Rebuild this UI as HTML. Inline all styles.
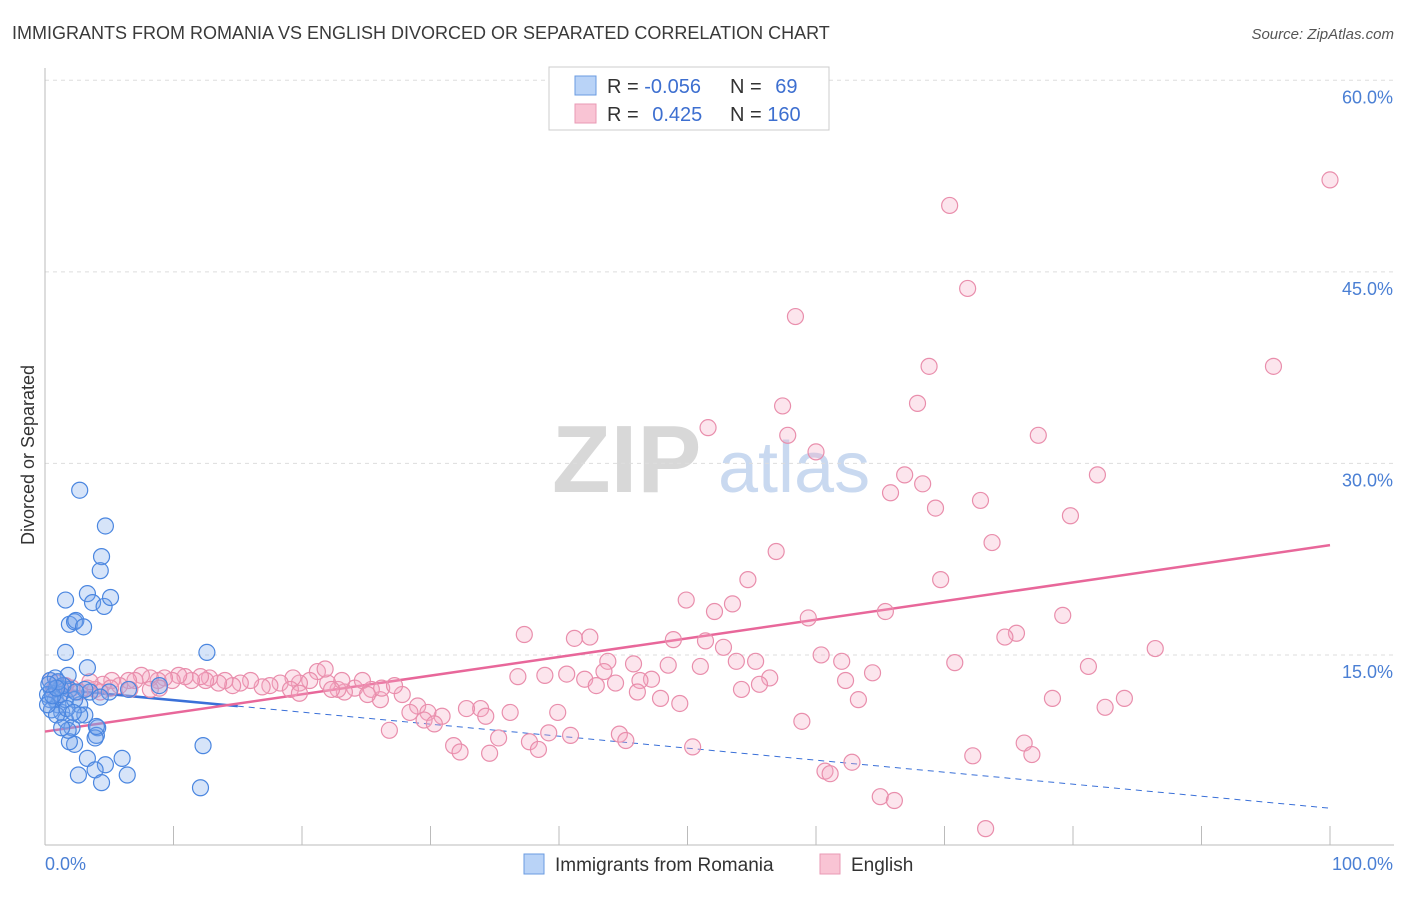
<!DOCTYPE html>
<html><head><meta charset="utf-8"><style>
body{margin:0;background:#fff;font-family:"Liberation Sans",sans-serif;}
svg text{font-family:"Liberation Sans",sans-serif;}
</style></head><body>
<svg id="chart" width="1406" height="892" xmlns="http://www.w3.org/2000/svg">
<text x="12" y="39" font-size="18" fill="#3a3a3a">IMMIGRANTS FROM ROMANIA VS ENGLISH DIVORCED OR SEPARATED CORRELATION CHART</text>
<text x="1394" y="39" font-size="15" fill="#555" text-anchor="end" font-style="italic">Source: ZipAtlas.com</text>
<text x="552" y="492" font-size="96" fill="#d8d8d8" font-family="Liberation Serif" font-weight="bold">ZIP</text>
<text x="718" y="492" font-size="72" fill="#c9d9f0">atlas</text>
<text transform="translate(34,455) rotate(-90)" font-size="18" fill="#333" text-anchor="middle">Divorced or Separated</text>
<g id="grid"></g><g id="axes"></g><g id="trends"></g><g id="pts"></g>
<g>
<rect x="549" y="67" width="280" height="63" fill="#fff" stroke="#ccc"/>
<rect x="575" y="76" width="21" height="19" fill="#b9d3f7" stroke="#6a9be0"/>
<rect x="575" y="104" width="21" height="19" fill="#f9c4d4" stroke="#e99ab4"/>
<text x="607" y="93" font-size="20" fill="#333">R = <tspan fill="#3d6fd0">-0.056</tspan></text>
<text x="730" y="93" font-size="20" fill="#333">N = <tspan fill="#3d6fd0" dx="8">69</tspan></text>
<text x="607" y="121" font-size="20" fill="#333">R = <tspan fill="#3d6fd0" dx="8">0.425</tspan></text>
<text x="730" y="121" font-size="20" fill="#333">N = <tspan fill="#3d6fd0">160</tspan></text>
</g>
<g>
<rect x="524" y="854" width="20" height="20" fill="#b9d3f7" stroke="#6a9be0"/>
<text x="555" y="871" font-size="19" fill="#333">Immigrants from Romania</text>
<rect x="820" y="854" width="20" height="20" fill="#f9c4d4" stroke="#e99ab4"/>
<text x="851" y="871" font-size="19" fill="#333">English</text>
</g>
</svg>
<script>
const xTicks=[0,10,20,30,40,50,60,70,80,90,100];
const yTicks=[15,30,45,60];
const yTickLabels=["15.0%","30.0%","45.0%","60.0%"];
const blueX=[0.4,0.5,0.8,0.2,1.2,1.0,1.3,1.6,1.9,1.8,0.8,1.2,1.6,2.1,2.3,2.6,2.7,4.7,4.4,4.3,3.3,3.7,4.6,5.1,1.6,1.9,2.3,2.4,3.0,1.6,3.3,3.5,2.7,3.1,4.1,4.0,3.9,1.9,1.8,3.3,6.0,4.7,3.9,6.4,4.4,12.1,12.3,12.6,5.0,6.5,8.9,0.4,0.5,0.9,1.4,0.2,0.6,1.0,2.3,2.7,4.0,3.1,1.3,2.4,1.7,2.2,0.9,0.3,4.3];
const blueY=[13.0,12.3,11.5,11.9,12.4,11.1,10.5,11.5,12.3,13.4,13.2,11.9,9.9,9.3,8.0,5.6,27.9,25.1,22.7,21.6,19.8,19.1,18.8,19.5,19.3,17.4,17.6,17.7,17.2,15.2,14.0,12.1,11.1,10.3,9.3,8.7,8.5,8.2,9.1,6.9,6.9,6.4,6.0,5.6,5.0,4.6,7.9,15.2,12.1,12.3,12.6,11.5,10.7,10.3,12.6,11.1,11.8,12.9,11.5,10.3,9.4,12.3,9.3,12.1,10.8,10.5,12.4,12.7,11.7];
const pinkX=[100,70.4,71.8,58.4,68.8,95.6,67.9,57.4,51.6,57.8,77.3,60.0,66.9,65.8,68.3,81.9,72.8,69.3,79.8,73.7,56.9,54.7,69.7,49.9,53.5,52.1,59.4,65.4,79.2,37.3,41.2,42.4,48.9,51.4,75.6,74.7,52.8,43.8,55.3,53.8,60.4,62.0,70.8,86.4,81.2,45.8,48.5,36.8,38.9,40.6,43.5,42.0,47.2,46.3,42.9,44.4,51.0,56.4,55.6,54.2,64.4,62.3,46.1,47.9,49.4,78.4,84.0,82.5,63.3,58.9,39.9,36.2,33.9,32.8,34.3,30.9,29.0,28.4,29.8,29.5,30.3,26.8,31.8,32.3,34.6,35.3,37.7,38.4,39.2,40.9,44.7,45.2,50.4,60.7,61.1,62.8,65.0,66.1,72.2,76.2,76.8,73.2,27.8,26.1,25.4,24.1,23.3,22.8,22.0,21.2,21.8,20.6,19.8,19.3,18.3,17.5,16.9,16.0,15.2,14.6,14.0,13.5,12.8,12.5,12.1,11.4,10.9,10.4,9.9,9.3,8.8,8.2,7.5,7.0,6.5,5.8,5.2,4.5,3.9,3.3,2.7,2.1,1.5,0.9,0.4,0.7,1.2,1.6,19.1,19.8,24.7,23.1,22.3,25.1,26.2,27.2,8.2,6.6,5.1,3.5,4.3,8.9];
const pinkY=[52.2,50.2,43.7,41.5,37.6,37.6,34.7,34.5,32.8,32.2,32.2,30.9,29.1,27.7,28.4,29.1,27.1,26.5,25.9,23.8,23.1,20.9,20.9,19.3,19.0,18.4,17.9,18.4,18.1,16.6,16.3,16.4,16.2,16.1,16.7,16.4,15.6,14.5,14.5,14.5,15.0,14.5,14.4,15.5,14.1,14.3,14.2,13.3,13.4,13.5,13.7,13.1,13.1,13.0,12.6,12.8,14.1,13.2,12.7,12.3,13.6,13.0,12.1,11.6,11.2,11.6,11.6,10.9,11.5,9.8,10.5,10.5,10.8,10.8,10.2,10.2,11.0,10.5,10.5,9.9,9.6,9.1,7.9,7.4,7.3,8.5,8.2,7.6,8.9,8.7,8.8,8.3,7.8,5.9,5.7,6.6,3.9,3.6,7.1,8.1,7.2,1.4,11.9,11.5,12.3,12.4,12.1,12.3,12.8,13.7,13.9,13.0,12.8,13.2,12.8,12.6,12.5,13.0,12.8,12.6,13.0,12.8,13.2,13.0,13.3,13.0,13.3,13.4,13.0,13.2,13.0,13.2,13.4,13.0,13.0,12.6,13.0,12.7,12.3,12.4,12.1,12.4,12.6,12.8,13.0,12.3,11.9,12.6,12.3,12.0,13.0,13.0,12.3,11.9,12.4,12.6,12.3,12.3,12.4,12.9,12.1,12.4];
const blueTrend=[12.4,3.0];
const blueSolidEnd=15;
const pinkTrend=[9.0,23.6];
const NS="http://www.w3.org/2000/svg";
const X=v=>45+v*12.85, Y=v=>846.5-v*12.77;
function mk(tag,attrs,parent){const e=document.createElementNS(NS,tag);for(const k in attrs)e.setAttribute(k,attrs[k]);parent.appendChild(e);return e;}
const grid=document.getElementById('grid'),axes=document.getElementById('axes'),tr=document.getElementById('trends'),pts=document.getElementById('pts');
yTicks.forEach((t,i)=>{
 const l=mk('line',{x1:45,x2:1394,y1:Y(t),y2:Y(t),stroke:'#ddd','stroke-dasharray':'4,4'},grid);
 
 
 const tx=mk('text',{x:1393,y:Y(t)+23,'font-size':18,fill:'#4a7fd4','text-anchor':'end'},grid);
 tx.textContent=yTickLabels[i];
 
 
});
const ax=mk('line',{x1:45,x2:1394,y1:845,y2:845,stroke:'#bbb'},axes);


const ay=mk('line',{x1:45,x2:45,y1:68,y2:845,stroke:'#bbb'},axes);


xTicks.forEach(t=>{const l=mk('line',{x1:X(t),x2:X(t),y1:826,y2:845,stroke:'#bbb'},axes);
 
 });
const x0=mk('text',{x:45,y:870,'font-size':18,fill:'#4a7fd4'},axes);x0.textContent='0.0%';


const x1=mk('text',{x:1393,y:870,'font-size':18,fill:'#4a7fd4','text-anchor':'end'},axes);x1.textContent='100.0%';


function drawPts(xs,ys,fill,stroke,name){xs.forEach((v,i)=>{const c=mk('circle',{cx:X(v),cy:Y(ys[i]),r:8,fill:fill,stroke:stroke,'stroke-width':1.2},pts);
 
 });}
drawPts(pinkX,pinkY,'rgba(246,170,195,0.3)','#e98eac','english-point');
drawPts(blueX,blueY,'rgba(120,165,235,0.3)','#4a86e0','romania-point');
const bY=x=>blueTrend[0]+(blueTrend[1]-blueTrend[0])*x/100;
const b1=mk('line',{x1:X(0),y1:Y(bY(0)),x2:X(blueSolidEnd),y2:Y(bY(blueSolidEnd)),stroke:'#3a70d8','stroke-width':2.5},tr);


const b2=mk('line',{x1:X(blueSolidEnd),y1:Y(bY(blueSolidEnd)),x2:X(100),y2:Y(bY(100)),stroke:'#3a70d8','stroke-width':1,'stroke-dasharray':'6,5'},tr);


const p1=mk('line',{x1:X(0),y1:Y(pinkTrend[0]),x2:X(100),y2:Y(pinkTrend[1]),stroke:'#e8679a','stroke-width':2.5},tr);


</script>
</body></html>
